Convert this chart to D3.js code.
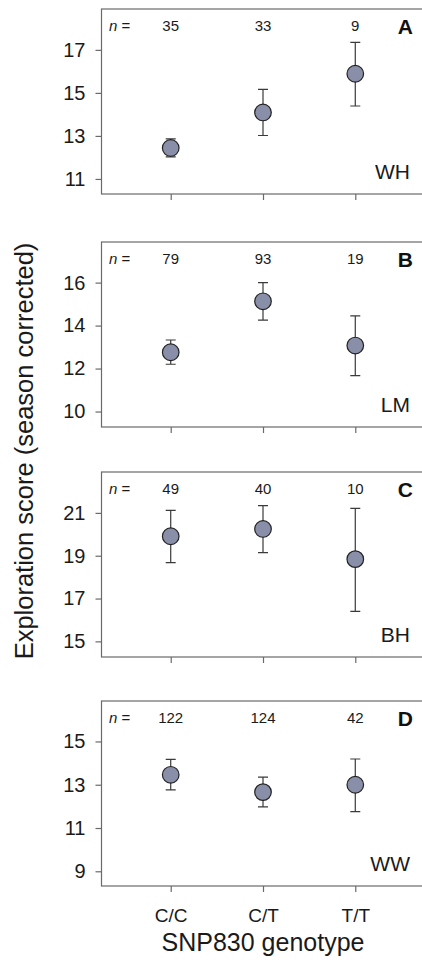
<!DOCTYPE html>
<html>
<head>
<meta charset="utf-8">
<script src="https://cdn.jsdelivr.net/npm/d3@7"></script>
<style>
  body { margin: 0; background: #fff; }
  text { font-family: "Liberation Sans", Arial, sans-serif; }
</style>
</head>
<body>
<div id="roott"></div>
<script>
// DATA
const genotypes = ["C/C", "C/T", "T/T"];
const panelLetters = ["A", "B", "C", "D"];
const populations = ["WH", "LM", "BH", "WW"];
const sampleSizes = [[35, 33, 9], [79, 93, 19], [49, 40, 10], [122, 124, 42]];
const means = [[12.44, 14.09, 15.89], [12.76, 15.13, 13.07], [19.91, 20.25, 18.84], [13.46, 12.66, 13.0]];
const upperSE = [[12.86, 15.16, 17.35], [13.33, 16.0, 14.45], [21.12, 21.34, 21.21], [14.17, 13.35, 14.19]];
const lowerSE = [[12.03, 13.02, 14.39], [12.2, 14.25, 11.67], [18.68, 19.14, 16.4], [12.76, 11.98, 11.76]];
const yTicks = [[11, 13, 15, 17], [10, 12, 14, 16], [15, 17, 19, 21], [9, 11, 13, 15]];
const yDomains = [[10.3, 18.9], [9.28, 17.89], [14.27, 22.91], [8.32, 16.87]];

// DIMENSIONS
const widthh = 422, heightt = 967;
const panelTops = [9, 242, 472, 701];
const panelH = 185;
const leftt = 101.5, rightt = 424.5;

let svg = d3.select('#roott')
  .append('svg')
  .attr('width', widthh)
  .attr('height', heightt);

let xScale = d3.scalePoint()
  .domain(genotypes)
  .range([leftt, rightt])
  .padding(0.75);

panelLetters.forEach((letter, i) => {
  let top = panelTops[i], bottom = top + panelH;
  let yScale = d3.scaleLinear().domain(yDomains[i]).range([bottom, top]);
  let g = svg.append('g');

  // frame
  g.append('rect')
    .attr('x', leftt).attr('y', top)
    .attr('width', rightt - leftt).attr('height', panelH)
    .attr('fill', 'none').attr('stroke', '#6a6a6a').attr('stroke-width', 1.2);

  // y axis
  g.append('g')
    .attr('transform', `translate(${leftt},0)`)
    .call(d3.axisLeft(yScale).tickValues(yTicks[i]).tickSize(6).tickPadding(10))
    .call(a => {
      a.select('.domain').remove();
      a.selectAll('line').attr('stroke', '#6a6a6a').attr('stroke-width', 1.2);
      a.selectAll('text').style('font-size', '20px').attr('fill', '#1a1a1a');
    });

  // x axis
  let xAxis = d3.axisBottom(xScale).tickSize(6).tickPadding(17);
  if (i < 3) xAxis.tickFormat('');
  g.append('g')
    .attr('transform', `translate(0,${bottom})`)
    .call(xAxis)
    .call(a => {
      a.select('.domain').remove();
      a.selectAll('line').attr('stroke', '#6a6a6a').attr('stroke-width', 1.2);
      a.selectAll('text').style('font-size', '19px').attr('fill', '#1a1a1a');
    });

  // error bars
  let rows = genotypes.map((gt, j) => ({gt: gt, m: means[i][j], hi: upperSE[i][j], lo: lowerSE[i][j], n: sampleSizes[i][j]}));
  g.selectAll('.bar').data(rows).enter().append('path')
    .attr('d', d => {
      let x = xScale(d.gt), y1 = yScale(d.hi), y2 = yScale(d.lo);
      return `M${x - 5},${y1}H${x + 5}M${x},${y1}V${y2}M${x - 5},${y2}H${x + 5}`;
    })
    .attr('fill', 'none').attr('stroke', '#3a3a3a').attr('stroke-width', 1.2);

  // means
  g.selectAll('circle').data(rows).enter().append('circle')
    .attr('cx', d => xScale(d.gt))
    .attr('cy', d => yScale(d.m))
    .attr('r', 8.3)
    .attr('fill', '#8a8fa9')
    .attr('stroke', '#222').attr('stroke-width', 1.2);

  // sample sizes
  g.append('text')
    .attr('x', 109).attr('y', top + 21.5)
    .style('font-size', '15px').attr('fill', '#1a1a1a')
    .call(t => {
      t.append('tspan').style('font-style', 'italic').text('n');
      t.append('tspan').text('\u00a0=');
    });
  g.selectAll('.nlab').data(rows).enter().append('text')
    .attr('x', d => xScale(d.gt)).attr('y', top + 21.5)
    .attr('text-anchor', 'middle')
    .style('font-size', '15px').attr('fill', '#1a1a1a')
    .text(d => d.n);

  g.append('text')
    .attr('x', 413).attr('y', top + 25)
    .attr('text-anchor', 'end')
    .style('font-size', '21px').style('font-weight', 'bold').attr('fill', '#111')
    .text(letter);

  g.append('text')
    .attr('x', 410).attr('y', bottom - 15.5)
    .attr('text-anchor', 'end')
    .style('font-size', '21px').attr('fill', '#1a1a1a')
    .text(populations[i]);
});

// axis titles
svg.append('text')
  .attr('transform', 'translate(33,451) rotate(-90)')
  .attr('text-anchor', 'middle')
  .style('font-size', '25.5px').attr('fill', '#1a1a1a')
  .text('Exploration score (season corrected)');

svg.append('text')
  .attr('x', xScale('C/T')).attr('y', 951)
  .attr('text-anchor', 'middle')
  .style('font-size', '25px').attr('fill', '#1a1a1a')
  .text('SNP830 genotype');
</script>
</body>
</html>
